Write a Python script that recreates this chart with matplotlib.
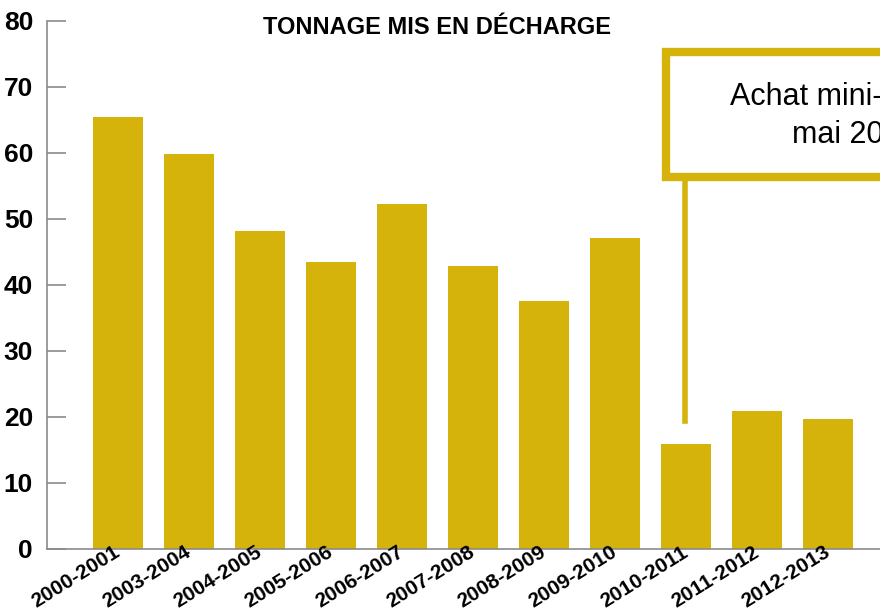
import matplotlib.pyplot as plt
from matplotlib.patches import Rectangle

seasons = ['2000-2001', '2003-2004', '2004-2005', '2005-2006', '2006-2007',
           '2007-2008', '2008-2009', '2009-2010', '2010-2011', '2011-2012',
           '2012-2013']
tonnage = [65.5, 59.8, 48.2, 43.5, 52.3, 42.9, 37.6, 47.1, 15.9, 20.9, 19.7]

gold = '#D5B30B'
grey = '#8a8a8a'
font = 'Liberation Sans'

fig = plt.figure(figsize=(8.8, 6.13), dpi=100)
ax = fig.add_axes([47 / 880, 64 / 613, 833 / 880, 528 / 613])

x = range(len(seasons))
ax.bar(x, tonnage, width=0.7, color=gold, zorder=2)

ax.set_xlim(-1.0, 10.73)
ax.set_ylim(0, 80)
ax.set_yticks(range(0, 81, 10))
ax.set_xticks(list(x))
ax.set_xticklabels(seasons, rotation=32, ha='right', va='center', rotation_mode='anchor',
                   fontsize=15, fontweight='bold', family=font)
for lab in ax.get_yticklabels():
    lab.set_fontsize(19)
    lab.set_fontweight('bold')
    lab.set_family(font)
ax.xaxis.set_zorder(3)

ax.tick_params(axis='y', direction='in', length=14, width=1.2, color=grey, pad=10)
ax.tick_params(axis='x', length=0, pad=1)
for s in ['top', 'right']:
    ax.spines[s].set_visible(False)
for s in ['left', 'bottom']:
    ax.spines[s].set_color(grey)
    ax.spines[s].set_linewidth(1.2)

fig.text(437 / 880, 1 - 28 / 613, 'TONNAGE MIS EN DÉCHARGE', ha='center', va='center',
         fontsize=17, fontweight='bold', family=font)

# annotation box (runs off the right edge, as in the original)
box = Rectangle((666 / 880, 1 - 177 / 613), 260 / 880, 125 / 613,
                transform=fig.transFigure, facecolor='white', edgecolor=gold,
                linewidth=6, zorder=5)
fig.add_artist(box)
fig.add_artist(plt.Line2D([684.5 / 880, 684.5 / 880], [1 - 181 / 613, 1 - 421 / 613],
                          transform=fig.transFigure, color=gold, linewidth=4, zorder=4))
fig.text(730 / 880, 1 - 97 / 613, 'Achat mini-broyeur', ha='left', va='center',
         fontsize=22, family=font, zorder=6)
fig.text(792 / 880, 1 - 135 / 613, 'mai 2010', ha='left', va='center',
         fontsize=22, family=font, zorder=6)

fig.savefig('out.png', dpi=100)
